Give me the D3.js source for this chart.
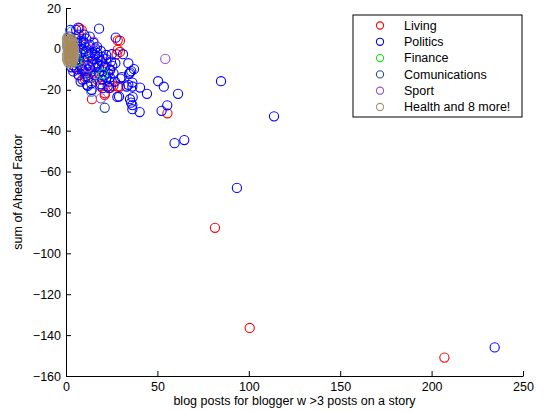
<!DOCTYPE html>
<html>
<head>
<meta charset="utf-8">
<script src="https://cdn.jsdelivr.net/npm/d3@7"></script>
<style>
  body { margin: 0; background: #fff; }
  svg text { font-family: "Liberation Sans", Arial, Helvetica, sans-serif; fill: #000; }
  .axis path, .axis line { stroke: #000; }
</style>
</head>
<body>
<div id="chart"></div>
<script>
// x = blog posts, y = sum of Ahead Factor
const livingX = [207, 100.5, 81.5, 55.5, 28.3, 28.3, 27.7, 8.6, 7.3, 29.5, 29.5, 29.5, 28.3, 24.3, 25.9, 18.8, 21.3, 21.2, 14.2, 10.4, 6.9, 10.6, 9, 12, 5, 7, 15, 17, 13, 4, 10, 6, 24, 20];
const livingY = [-151, -136.5, -87.5, -31.5, 4.2, -0.5, -2.6, 9.3, 10.1, 4, -1.5, -18.4, -18.4, -19, -18.1, -18.1, -21.7, -22.5, -24.6, -14.8, -12.7, -13.5, -11, -8, -9, -6, -12, -15, -3, 3, 2, -2, -10, -6];

const politicsX = [234.5, 113.8, 93.5, 84.8, 64.7, 59.4, 61.3, 55.4, 53.5, 52.3, 50.4, 44.3, 40.3,
  37.2, 35, 35.7, 34.5, 36.3, 33.2, 36.3, 34.1, 30.5, 29.7, 31.2, 25, 27.2, 18.1, 24.6, 25.3, 34.1,
  36.5, 35, 36.3, 36.3, 35.6, 29, 26.8, 23.7, 23.5, 20, 19.1, 22.8, 11.9, 14, 11.5, 13.8, 21.5, 24.2,
  19.9, 12.7, 16, 6.7, 5.6, 2.4, 1.8, 40.5, 28.1,
  3, 4, 5, 6, 7, 8, 9, 10, 11, 12, 13, 14, 15, 16, 17, 18, 19, 20, 21, 22, 23, 6, 7, 8, 9, 10, 11, 12,
  13, 14, 15, 16, 17, 18, 5, 4, 6, 7, 9, 10, 3, 5, 8, 11, 13, 15, 17, 19, 21, 22, 24, 26, 27, 3, 4, 8,
  12, 14, 16, 18, 20, 22, 10, 7, 2];
const politicsY = [-146, -33, -68, -15.8, -44.6, -46.1, -22, -27.6, -18.5, -30.3, -15.8, -22, -30.9,
  -9.9, -11.6, -10.9, -12.2, -16.5, -18.4, -18.4, -17.6, -13.8, -14.5, -2.6, -2.6, 5.5, 9.9, -6.2, -8.3, -7,
  -23.6, -24.6, -27.5, -29.5, -26.3, -23.3, -16, -16, -19.2, -19.2, -17.3, -18.4, -18.1, -20, -17.6, -16.8, -8.6, -10.3,
  -3.8, 1.1, 0.3, 10.4, 9.3, 9.3, 6, -18.9, -23.5,
  4, 2, 5, 3, 1, 4, 0, 3, -1, -4, 2, -2, -5, -3, -7, -9, -1, -11, -13, -5, -12, -3, -5, -8, -10, -6, -12, -14,
  -9, -11, -8, -13, -2, -4, -6, -8, -10, -13, -15, -11, -3, 0, -2, 5, 6, 3, 1, -6, -9, -14, -14, -12, -7, -9, -11, -16,
  -10, -6, -9, -12, -15, -3, 7, 7, 2];

const financeX = [20.2, 3, 6];
const financeY = [-12.2, -1, -6];

const commX = [21.2, 9, 14, 5];
const commY = [-28.8, -3, -14, -4];

const sportX = [54.3, 15.1, 19.1, 12, 4];
const sportY = [-4.9, 3.6, -24.2, -9, -5];

// other categories, not in the legend
const otherX = [3.1, 11.2, 13.8, 8, 6, 2, 9.5, 4.5];
const otherY = [8.5, -2, -21, -7, 2, -6, 4, -1];

const healthX = [0.5, 1, 1.5, 2, 2.5, 3, 3.5, 4, 0.5, 1, 1.5, 2, 2.5, 3, 3.5, 4, 4.5, 0.5, 1, 1.5, 2, 2.5, 3, 3.5,
  4, 4.5, 0.5, 1, 1.5, 2, 2.5, 3, 3.5, 4, 0.5, 1, 1.5, 2, 2.5, 3, 3.5, 4, 4.5, 1, 1.5, 2, 2.5, 3, 3.5, 1, 2, 3, 4];
const healthY = [5, 4, 5, 3, 4, 2, 3, 1, 1, 2, 0, 1, -1, 0, -2, -1, 0, -3, -2, -4, -3, -5, -4, -6, -3, -2,
  -5, -6, -7, -6, -7, -5, -7, -5, 3, -1, 2, -2, 1, -3, 1, -4, -3, 6, 1, -5, 2, -1, -2, 0, 4, 5, 3];

const moreX = [1, 1.5, 2, 2.5, 3, 3.5, 1.5, 2, 2.5, 3, 1.5, 2.5, 2, 3, 2.5, 1.8, 3.2, 2.2, 2.8, 2];
const moreY = [2, -1, 4, 0, -3, 1, -4, -6, 3, -6, 5, -2, 1.5, 4.5, -4.5, -2.5, -0.5, 0.5, 2.5, -5];

const xTicks = [0, 50, 100, 150, 200, 250];
const yTicks = [20, 0, -20, -40, -60, -80, -100, -120, -140, -160];

const series = [
  {name: "Living", x: livingX, y: livingY, color: "#ff0000"},
  {name: "other", x: otherX, y: otherY, color: "#3aa8e0"},
  {name: "Politics", x: politicsX, y: politicsY, color: "#0000ff"},
  {name: "Finance", x: financeX, y: financeY, color: "#11dd11"},
  {name: "Comunications", x: commX, y: commY, color: "#1f4f9a"},
  {name: "Sport", x: sportX, y: sportY, color: "#9a50d0"},
  {name: "Health and 8 more!", x: healthX, y: healthY, color: "#a0967a"},
  {name: "more", x: moreX, y: moreY, color: "#a8895a"}
];
const legendOrder = ["Living", "Politics", "Finance", "Comunications", "Sport", "Health and 8 more!"];

const W = 548, H = 411;
const margin = {top: 8, right: 25, bottom: 35, left: 66};
const width = W - margin.left - margin.right,
      height = H - margin.top - margin.bottom;

const svg = d3.select("#chart").append("svg")
  .attr("width", W)
  .attr("height", H);

const g = svg.append("g")
  .attr("transform", "translate(" + margin.left + "," + margin.top + ")");

const x = d3.scaleLinear().domain([0, 250]).range([0, width]);
const y = d3.scaleLinear().domain([-160, 20]).range([height, 0]);

const fmt = function(d) { return d < 0 ? "\u2212" + Math.abs(d) : "" + d; };

g.append("g")
  .attr("class", "axis")
  .attr("transform", "translate(0," + height + ")")
  .call(d3.axisBottom(x).tickValues(xTicks).tickSizeInner(-5).tickSizeOuter(0).tickPadding(6).tickFormat(fmt))
  .call(function(a) { a.selectAll("text").style("font-size", "12.5px"); });

g.append("g")
  .attr("class", "axis")
  .call(d3.axisLeft(y).tickValues(yTicks).tickSizeInner(-5).tickSizeOuter(0).tickPadding(5).tickFormat(fmt))
  .call(function(a) { a.selectAll("text").style("font-size", "12.5px"); });

// points
series.forEach(function(s) {
  const pts = s.x.map(function(v, i) { return {x: v, y: s.y[i]}; });
  g.append("g").selectAll("circle")
    .data(pts)
    .join("circle")
      .attr("cx", function(d) { return x(d.x); })
      .attr("cy", function(d) { return y(d.y); })
      .attr("r", 4.6)
      .attr("fill", "none")
      .attr("stroke", s.color)
      .attr("stroke-width", 1.1);
});

// axis labels
svg.append("text")
  .attr("x", margin.left + width / 2)
  .attr("y", 405)
  .attr("text-anchor", "middle")
  .style("font-size", "12.5px")
  .text("blog posts for blogger w >3 posts on a story");

svg.append("text")
  .attr("transform", "translate(22," + (margin.top + height / 2) + ") rotate(-90)")
  .attr("text-anchor", "middle")
  .style("font-size", "12.5px")
  .text("sum of Ahead Factor");

// legend
const legend = svg.append("g").attr("transform", "translate(353,15)");
legend.append("rect")
  .attr("width", 169)
  .attr("height", 102)
  .attr("fill", "#fff")
  .attr("stroke", "#000")
  .attr("stroke-width", 1);

const legItems = legendOrder.map(function(n) {
  return series.find(function(s) { return s.name === n; });
});

const rows = legend.selectAll(".leg")
  .data(legItems)
  .join("g")
    .attr("class", "leg")
    .attr("transform", function(d, i) { return "translate(0," + (10.5 + i * 16.3) + ")"; });

rows.append("circle")
  .attr("cx", 27)
  .attr("r", 3.6)
  .attr("fill", "none")
  .attr("stroke", function(d) { return d.color; })
  .attr("stroke-width", 1.1);

rows.append("text")
  .attr("x", 51)
  .attr("dy", "0.35em")
  .style("font-size", "12.5px")
  .text(function(d) { return d.name; });
</script>
</body>
</html>
